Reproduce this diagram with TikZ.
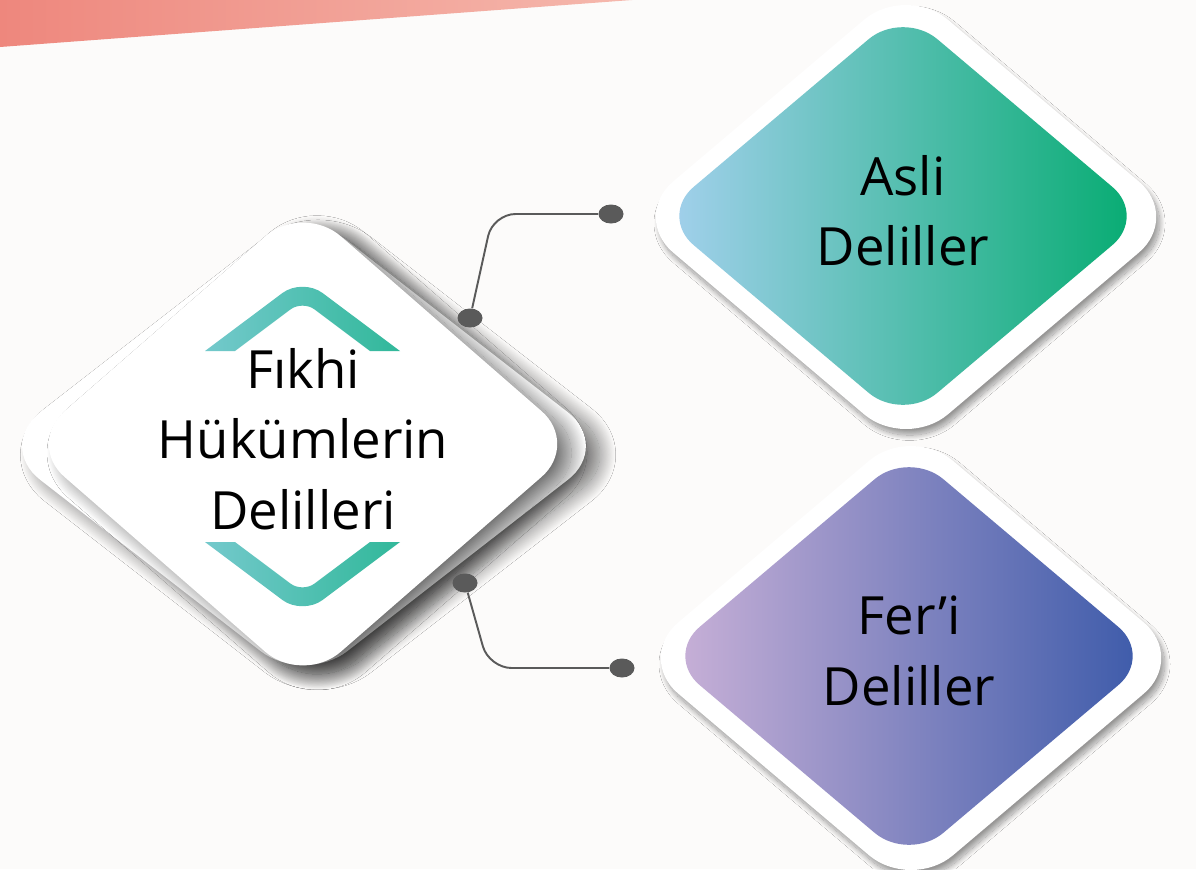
\documentclass[tikz,border=0pt]{standalone}
\usepackage{fontspec}
\setmainfont{Open Sans}
\usetikzlibrary{shapes.geometric,shadows.blur,calc}

\definecolor{paper}{HTML}{FCFBFA}
\definecolor{pinkL}{HTML}{EE877D}
\definecolor{pinkR}{HTML}{F5B8AD}
\definecolor{tealL}{HTML}{74C9CC}
\definecolor{tealR}{HTML}{31B89A}
\definecolor{asliL}{HTML}{A6D1EF}
\definecolor{asliM}{HTML}{6EC6C5}
\definecolor{asliR}{HTML}{03AB6F}
\definecolor{feriL}{HTML}{CBB2D8}
\definecolor{feriM}{HTML}{8D8BC0}
\definecolor{feriR}{HTML}{3A59A9}
\definecolor{wire}{HTML}{5A5A5A}

\begin{document}
\begin{tikzpicture}[x=0.02cm, y=-0.02cm,
    frame/.style={diamond, fill=white, inner sep=0pt, rounded corners=1.1cm,
      minimum width=11cm, minimum height=9.32cm,
      blur shadow={shadow xshift=2pt, shadow yshift=-3.5pt, shadow blur radius=3pt,
        shadow blur steps=20, shadow opacity=40}},
    tile/.style={diamond, inner sep=0pt, rounded corners=0.9cm,
      minimum width=9.76cm, minimum height=8.24cm, align=center, text depth=6pt,
      font=\fontsize{30}{40}\selectfont},
    hublayer/.style={diamond, fill=white, inner sep=0pt,
      blur shadow={shadow xshift=8pt, shadow yshift=-5pt, shadow blur radius=9pt,
        shadow blur steps=30, shadow opacity=55}},
    dot/.style={ellipse, fill=wire, inner sep=0pt, minimum width=0.5cm, minimum height=0.38cm},
    wireline/.style={draw=wire, line width=1.1pt, rounded corners=0.45cm}]

  \useasboundingbox (0,0) rectangle (1196,869);
  \clip (0,0) rectangle (1196,869);
  \fill[paper] (0,0) rectangle (1196,869);
  \shade[left color=pinkL, right color=pinkR] (0,0) -- (632,0) -- (0,47) -- cycle;

  % Nodes
  \node[hublayer, minimum width=12.3cm, minimum height=9.56cm, rounded corners=1.1cm] (hubframe) at (304,446) {};
  \node[hublayer, minimum width=11.06cm, minimum height=8.76cm, rounded corners=1cm,
    align=center, text depth=6pt, font=\fontsize{30}{40}\selectfont] (hub) at (303,444) {Fıkhi\\Hükümlerin\\Delilleri};

  \node[frame] (asliframe) at (906,217) {};
  \node[tile, left color=asliL, middle color=asliM, right color=asliR] (asli) at (903,216) {Asli\\Deliller};
  \node[frame] (feriframe) at (911,658) {};
  \node[tile, left color=feriL, middle color=feriM, right color=feriR] (feri) at (909,656) {Fer’i\\Deliller};

  % Chevrons
  \shade[left color=tealL, right color=tealR] (205,351) [rounded corners=0.5cm] -- (302.5,278) [sharp corners] -- (400,351) -- (370,351)
    [rounded corners=0.3cm] -- (302.5,300.4) [sharp corners] -- (235,351) -- cycle;
  \shade[left color=tealL, right color=tealR] (205,542) [rounded corners=0.5cm] -- (302.5,615) [sharp corners] -- (400,542) -- (370,542)
    [rounded corners=0.3cm] -- (302.5,592.6) [sharp corners] -- (235,542) -- cycle;

  % Connectors
  \node[dot] (hubup) at (470,318) {};
  \node[dot] (asliend) at (611,214) {};
  \node[dot] (hubdown) at (465,583) {};
  \node[dot] (feriend) at (622,668) {};
  \draw[wireline] (hubup) -- ($(hubup.center |- asliend.center)+(23,0)$) -- (asliend);
  \draw[wireline] (hubdown) -- ($(hubdown.center |- feriend.center)+(24,0)$) -- (feriend);
\end{tikzpicture}
\end{document}
